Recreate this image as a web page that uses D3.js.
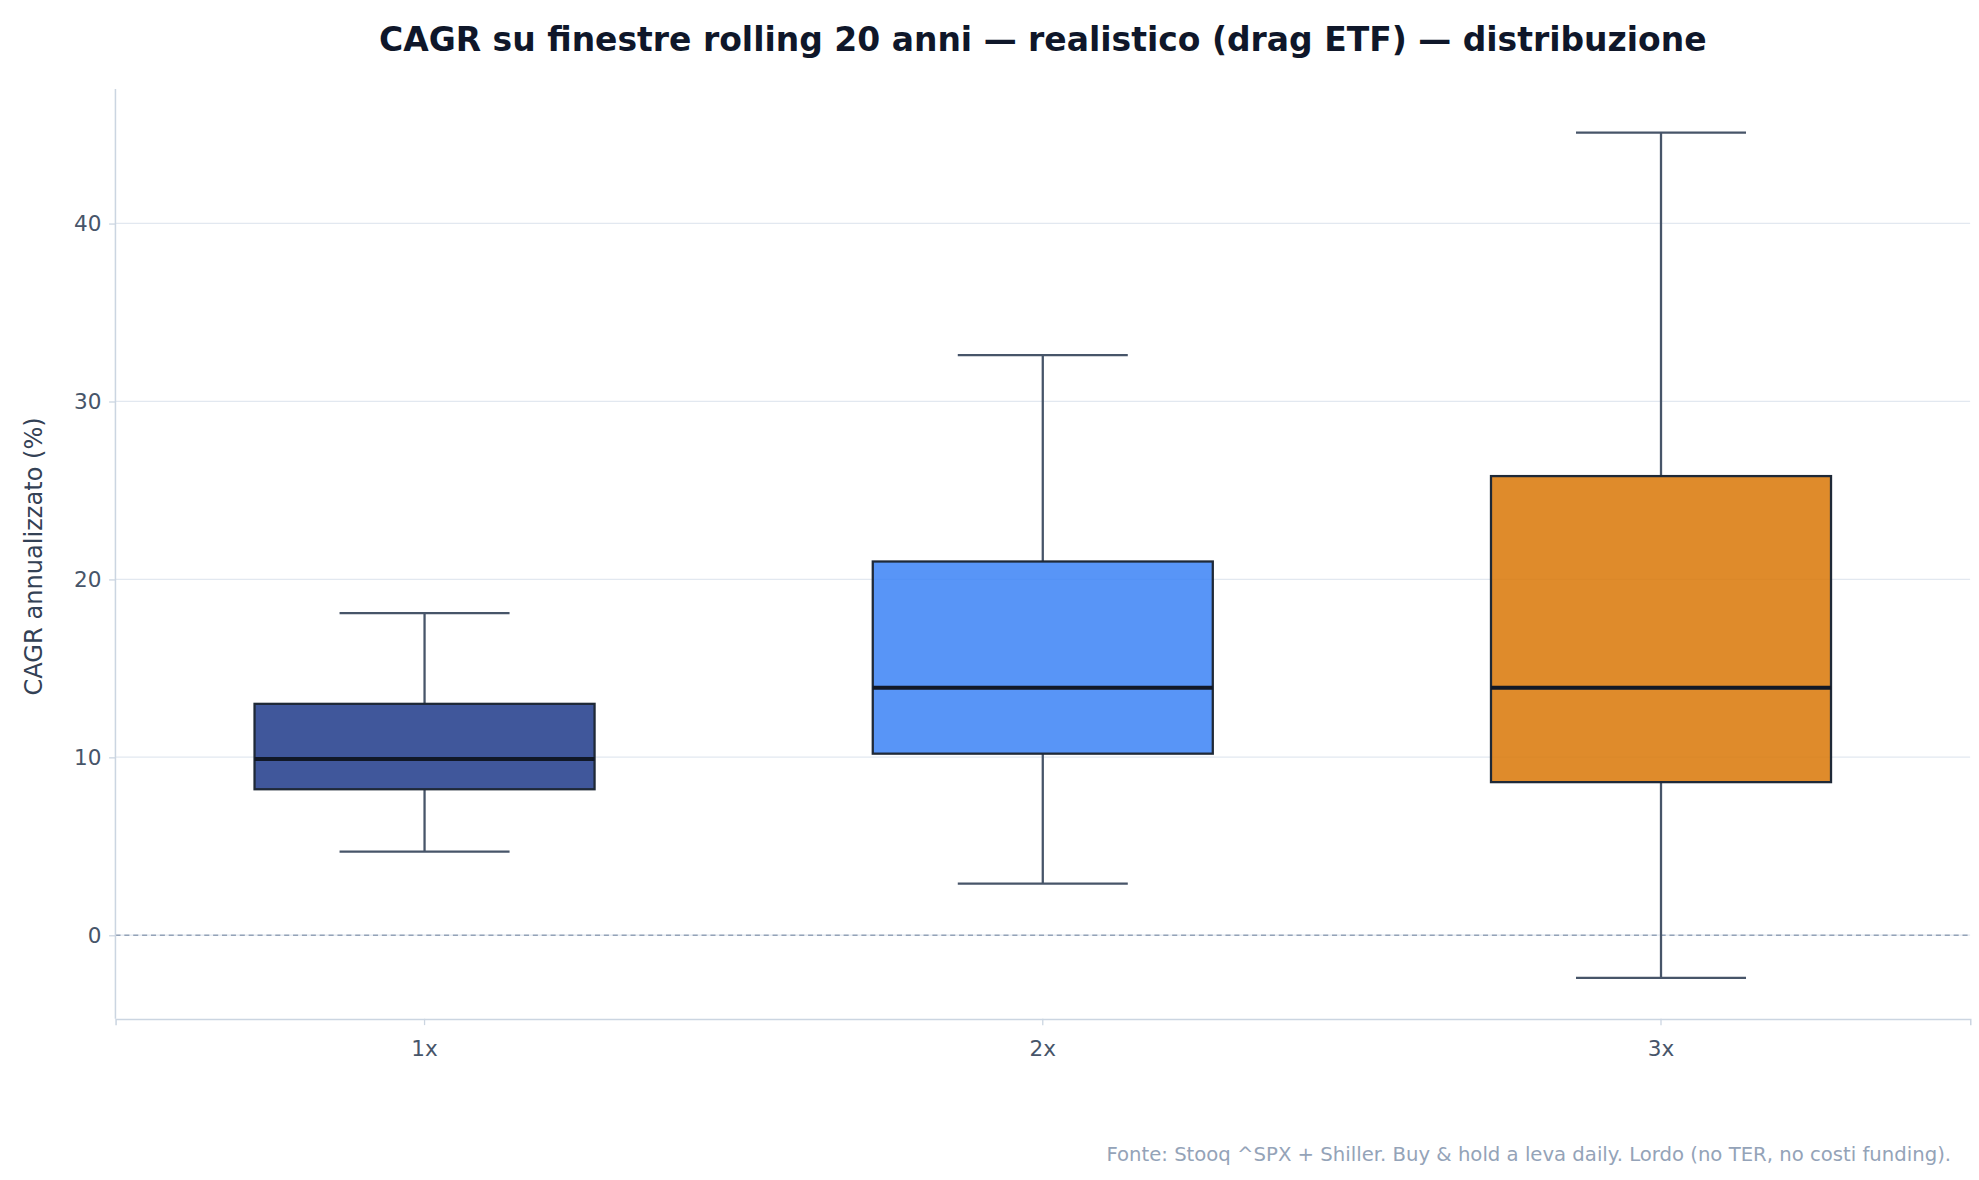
<!DOCTYPE html>
<html><head><meta charset="utf-8">
<script src="https://cdn.jsdelivr.net/npm/d3@7"></script>
<style>body{margin:0;background:#fff}svg{display:block}</style>
</head><body><svg id="c" width="1979" height="1180" viewBox="0 0 1560 930"></svg>
<script>
const categories = ["1x","2x","3x"];
const whiskerLow = [4.7, 2.9, -2.4];
const q1 = [8.2, 10.2, 8.6];
const median = [9.9, 13.9, 13.9];
const q3 = [13.0, 21.0, 25.8];
const whiskerHigh = [18.1, 32.6, 45.1];
const colors = ["#1e3a8a","#3b82f6","#d97706"];
const yTicks = [0,10,20,30,40];

const svg = d3.select("#c");
const font = "DejaVu Sans";
const L=91,R=1553,T=70,B=803;
const x = d3.scaleBand().domain(categories).range([L,R]).padding(0);
const y = d3.scaleLinear().domain([-4.7,47.56]).range([B,T]);
const bw = x.bandwidth()*0.55;

svg.append("g").selectAll("line").data(yTicks).join("line")
 .attr("x1",L).attr("x2",R).attr("y1",d=>y(d)).attr("y2",d=>y(d))
 .attr("stroke","#e2e8f0").attr("stroke-width",1);
svg.append("line").attr("x1",L).attr("x2",R).attr("y1",y(0)).attr("y2",y(0))
 .attr("stroke","#94a3b8").attr("stroke-width",1.2).attr("stroke-dasharray","4,3");

const yAxis = svg.append("g").attr("transform",`translate(${L},0)`)
 .call(d3.axisLeft(y).tickValues(yTicks).tickSize(5).tickPadding(6));
const xAxis = svg.append("g").attr("transform",`translate(0,${B})`)
 .call(d3.axisBottom(x).tickSize(5).tickPadding(12));
[yAxis,xAxis].forEach(a=>{
 a.select(".domain").attr("stroke","#cbd5e1").attr("stroke-width",1.2);
 a.selectAll(".tick line").attr("stroke","#cbd5e1");
 a.selectAll("text").attr("font-family",font).attr("font-size",17).attr("fill","#475569");
});
yAxis.select(".domain").attr("d",`M0,${B}V${T}`);

categories.forEach((c,i)=>{
 const cx = x(c)+x.bandwidth()/2;
 const g = svg.append("g");
 g.append("line").attr("x1",cx).attr("x2",cx).attr("y1",y(whiskerLow[i])).attr("y2",y(q1[i])).attr("stroke","#475569").attr("stroke-width",1.8);
 g.append("line").attr("x1",cx).attr("x2",cx).attr("y1",y(q3[i])).attr("y2",y(whiskerHigh[i])).attr("stroke","#475569").attr("stroke-width",1.8);
 [whiskerLow[i],whiskerHigh[i]].forEach(v=>g.append("line").attr("x1",cx-bw/4).attr("x2",cx+bw/4).attr("y1",y(v)).attr("y2",y(v)).attr("stroke","#475569").attr("stroke-width",1.8));
 g.append("rect").attr("x",cx-bw/2).attr("width",bw).attr("y",y(q3[i])).attr("height",y(q1[i])-y(q3[i]))
  .attr("fill",colors[i]).attr("fill-opacity",0.85).attr("stroke","#1f2937").attr("stroke-width",1.8);
 g.append("line").attr("x1",cx-bw/2).attr("x2",cx+bw/2).attr("y1",y(median[i])).attr("y2",y(median[i])).attr("stroke","#111827").attr("stroke-width",3.2);
});

svg.append("text").attr("x",(L+R)/2).attr("y",40).attr("text-anchor","middle")
 .attr("font-family",font).attr("font-weight","bold").attr("font-size",26).attr("fill","#0f172a")
 .text("CAGR su finestre rolling 20 anni — realistico (drag ETF) — distribuzione");
svg.append("text").attr("transform",`translate(33,${(T+B)/2+2}) rotate(-90)`).attr("text-anchor","middle")
 .attr("font-family",font).attr("font-size",19).attr("fill","#334155").text("CAGR annualizzato (%)");
svg.append("text").attr("x",1538).attr("y",915).attr("text-anchor","end")
 .attr("font-family",font).attr("font-size",15.5).attr("fill","#94a3b8")
 .text("Fonte: Stooq ^SPX + Shiller. Buy & hold a leva daily. Lordo (no TER, no costi funding).");
</script></body></html>
